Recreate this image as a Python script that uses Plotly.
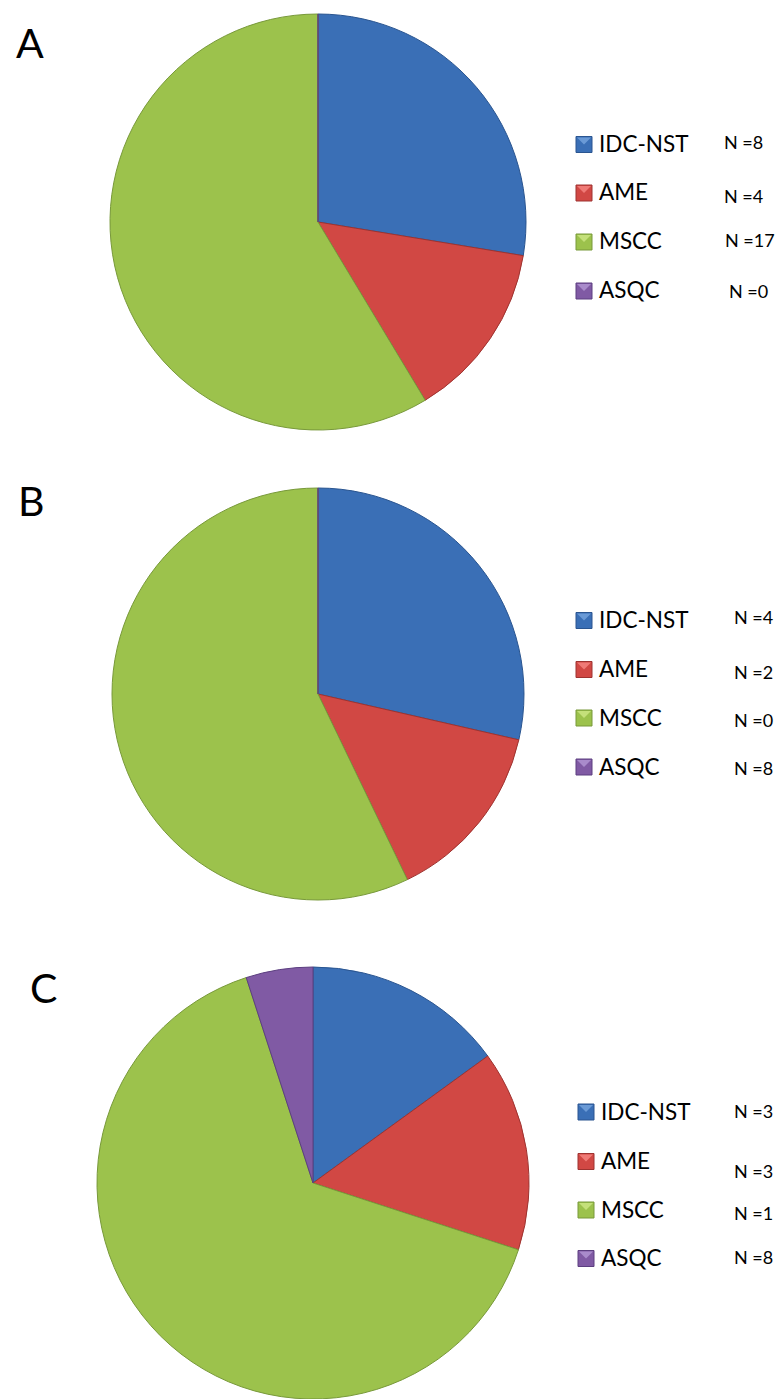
import plotly.graph_objects as go

# Tumour subtype counts per panel
categories = ["IDC-NST", "AME", "MSCC", "ASQC"]
counts_a = [8, 4, 17, 0]
counts_b = [4, 2, 8, 0]
counts_c = [3, 3, 13, 1]

# N texts listed beside each legend, top to bottom
n_text_a = ["N =8", "N =4", "N =17", "N =0"]
n_text_b = ["N =4", "N =2", "N =0", "N =8"]
n_text_c = ["N =3", "N =3", "N =1", "N =8"]

panel_letters = ["A", "B", "C"]

slice_colors = ["#3a6fb6", "#d14844", "#9cc24c", "#805aa4"]
edge_colors = ["#2a5590", "#9e3330", "#78993a", "#5c3f80"]
light_colors = ["#6a9ad6", "#ef7a76", "#c4e07a", "#a98bcb"]

W, H = 776, 1399


def px(x):
    return x / W


def py(y):
    return 1 - y / H


fig = go.Figure()

# pie geometry in pixels: (centre x, centre y, radius)
pies = [
    (counts_a, 318, 222, 208),
    (counts_b, 318, 694, 206),
    (counts_c, 313, 1183, 216),
]

for vals, cx, cy, r in pies:
    fig.add_trace(go.Pie(
        labels=categories,
        values=vals,
        sort=False,
        direction="clockwise",
        rotation=0,
        textinfo="none",
        hoverinfo="label+value",
        showlegend=False,
        marker=dict(colors=slice_colors,
                    line=dict(color=edge_colors, width=1)),
        domain=dict(x=[px(cx - r), px(cx + r)],
                    y=[max(0, py(cy + r)), min(1, py(cy - r))]),
    ))

annotations = []
shapes = []

# panel letters
letter_pos = [(14, 42), (16, 501), (28, 987)]
for letter, (lx, ly) in zip(panel_letters, letter_pos):
    annotations.append(dict(
        x=px(lx), y=py(ly), xref="paper", yref="paper",
        text=letter, showarrow=False, xanchor="left", yanchor="middle",
        font=dict(family="Lato", size=41, color="#000000"),
    ))

# legends: (marker x, text x, row centres, N x positions, N y positions, N texts)
legends = [
    (576, 597, [143.5, 192, 241, 290], [722, 722, 723, 727],
     [141.5, 196, 240.5, 291], n_text_a),
    (576, 597, [619.5, 668.5, 717, 766], [732, 732, 732, 732],
     [616.5, 672, 720, 768], n_text_b),
    (578, 599, [1111, 1160.5, 1209, 1257.5], [732, 732, 732, 732],
     [1111, 1171, 1213, 1257], n_text_c),
]

for mx, tx, rows, nxs, nys, ntexts in legends:
    for i, (cat, ry) in enumerate(zip(categories, rows)):
        s = 16
        x0, x1 = mx, mx + s
        y0, y1 = ry + 1 - s / 2, ry + 1 + s / 2
        shapes.append(dict(
            type="rect", xref="paper", yref="paper",
            x0=px(x0), x1=px(x1), y0=py(y1), y1=py(y0),
            fillcolor=slice_colors[i], line=dict(color=edge_colors[i], width=1),
        ))
        # bevelled top face of the legend key
        cxm, cym = (x0 + x1) / 2, (y0 + y1) / 2
        shapes.append(dict(
            type="path", xref="paper", yref="paper",
            path=(f"M {px(x0 + 1)},{py(y0 + 1)} L {px(x1 - 1)},{py(y0 + 1)} "
                  f"L {px(cxm)},{py(cym)} Z"),
            fillcolor=light_colors[i], line=dict(width=0),
        ))
        annotations.append(dict(
            x=px(tx), y=py(ry), xref="paper", yref="paper",
            text=cat, showarrow=False, xanchor="left", yanchor="middle",
            font=dict(family="Lato", size=22.5, color="#000000"),
        ))
    for nx, ny, nt in zip(nxs, nys, ntexts):
        annotations.append(dict(
            x=px(nx), y=py(ny), xref="paper", yref="paper",
            text=nt, showarrow=False, xanchor="left", yanchor="middle",
            font=dict(family="Lato", size=18, color="#000000"),
        ))

fig.update_layout(
    width=W, height=H,
    margin=dict(l=0, r=0, t=0, b=0),
    paper_bgcolor="#ffffff",
    plot_bgcolor="#ffffff",
    annotations=annotations,
    shapes=shapes,
)

fig.write_html("out.html")
